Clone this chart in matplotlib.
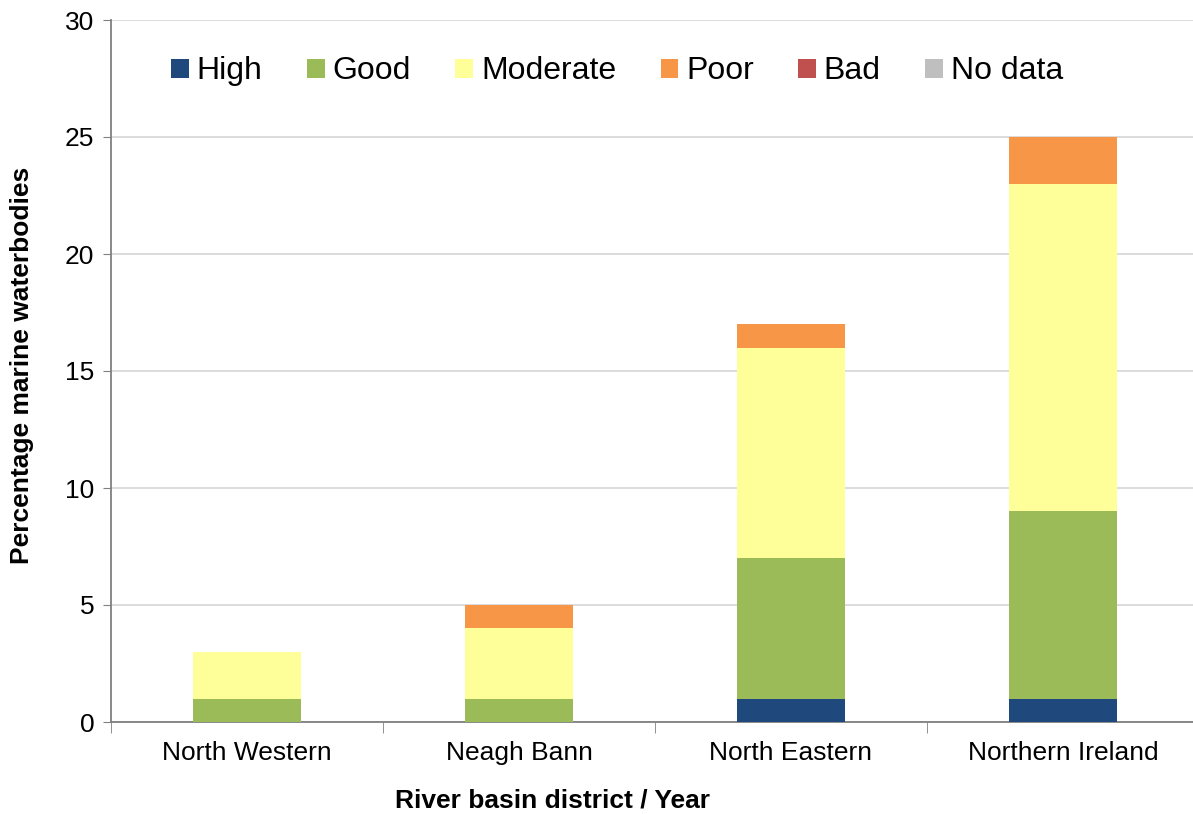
import matplotlib.pyplot as plt
import numpy as np

plt.rcParams['font.family'] = ['Liberation Sans', 'DejaVu Sans']

districts = ["North Western", "Neagh Bann", "North Eastern", "Northern Ireland"]
high = [0, 0, 1, 1]
good = [1, 1, 6, 8]
moderate = [2, 3, 9, 14]
poor = [0, 1, 1, 2]
bad = [0, 0, 0, 0]
no_data = [0, 0, 0, 0]

series = [("High", high, "#1F497D"), ("Good", good, "#9BBB59"),
          ("Moderate", moderate, "#FFFF99"), ("Poor", poor, "#F79646"),
          ("Bad", bad, "#C0504D"), ("No data", no_data, "#BFBFBF")]

fig = plt.figure(figsize=(11.93, 8.14), dpi=100)
ax = fig.add_axes([111/1193, 92/814, 1088/1193, 702/814])

x = np.arange(len(districts))
bottom = np.zeros(len(districts))
for name, vals, col in series:
    ax.bar(x, vals, 0.4, bottom=bottom, color=col, label=name, zorder=3)
    bottom += np.array(vals)

ax.set_xlim(-0.5, len(districts) - 0.5)
ax.set_ylim(0, 30)
ax.set_yticks(range(0, 31, 5))
ax.tick_params(axis='y', labelsize=19, length=6, color='#808080', pad=6)
ax.set_xticks(x)
ax.set_xticklabels(districts)
ax.tick_params(axis='x', which='major', length=0, labelsize=19, pad=14)
ax.set_xticks(np.arange(-0.5, len(districts)), minor=True)
ax.tick_params(axis='x', which='minor', length=8, color='#808080')
ax.grid(axis='y', color='#D9D9D9', linewidth=1.3, zorder=0)

for s in ['top', 'right']:
    ax.spines[s].set_visible(False)
for s in ['left', 'bottom']:
    ax.spines[s].set_color('#808080')
    ax.spines[s].set_linewidth(1.3)

ax.set_xlabel("River basin district / Year", fontsize=19, fontweight='bold')
ax.xaxis.set_label_coords(0.406, -0.095)
ax.set_ylabel("Percentage marine waterbodies", fontsize=19, fontweight='bold')
ax.yaxis.set_label_coords(-0.071, 0.508)

ax.legend(loc='upper left', bbox_to_anchor=(0.029, 0.989), ncol=6, frameon=False,
          fontsize=23, handlelength=0.55, handleheight=0.55, handletextpad=0.25,
          columnspacing=1.39)

fig.savefig("out.png", dpi=100)
